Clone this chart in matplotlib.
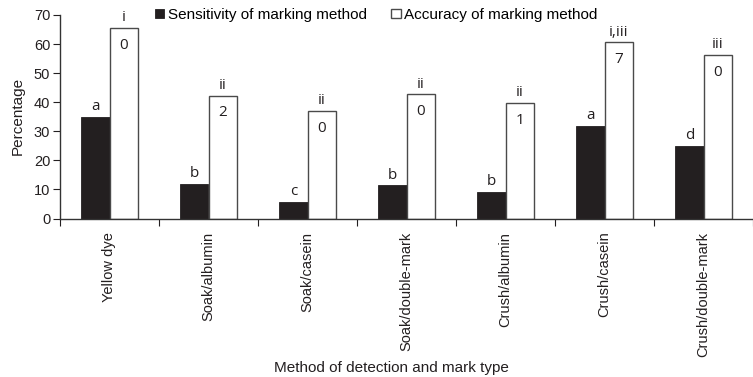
import numpy as np
import matplotlib
matplotlib.use("Agg")
import matplotlib.pyplot as plt

# Marking trial results per detection method / mark type
methods = ["Yellow dye", "Soak/albumin", "Soak/casein", "Soak/double-mark",
           "Crush/albumin", "Crush/casein", "Crush/double-mark"]
sensitivity = [35.0, 12.0, 5.8, 11.4, 9.2, 31.9, 25.0]
accuracy = [65.6, 42.3, 37.1, 42.7, 39.8, 60.6, 56.2]
sens_groups = ["a", "b", "c", "b", "b", "a", "d"]
acc_groups = ["i", "ii", "ii", "ii", "ii", "i,iii", "iii"]
acc_counts = ["0", "2", "0", "0", "1", "7", "0"]

ink = "#231f20"
plt.rcParams["font.family"] = ["Liberation Sans", "DejaVu Sans"]
plt.rcParams["font.size"] = 10.5

fig = plt.figure(figsize=(7.53, 3.77), dpi=100)
ax = fig.add_axes([60 / 753, 158.5 / 377, 693 / 753, 203.5 / 377])

centers = np.arange(len(methods)) + 0.5
w = 0.285
b1 = ax.bar(centers - w / 2, sensitivity, w, color=ink, edgecolor=ink, lw=0.6,
            label="Sensitivity of marking method")
b2 = ax.bar(centers + w / 2, accuracy, w, color="white", edgecolor="#4a4a4a", lw=1.0,
            label="Accuracy of marking method")

note_font = dict(family=["Open Sans", "DejaVu Sans"], fontsize=11, color=ink)
for x, v, g in zip(centers - w / 2, sensitivity, sens_groups):
    ax.annotate(g, (x, v), xytext=(0, 2), textcoords="offset points",
                ha="center", va="bottom", **note_font)
for x, v, g, n in zip(centers + w / 2, accuracy, acc_groups, acc_counts):
    ax.annotate(g, (x, v), xytext=(0, 2), textcoords="offset points",
                ha="center", va="bottom", **note_font)
    ax.annotate(n, (x, v), xytext=(0, -12.5), textcoords="offset points",
                ha="center", va="center", **note_font)

ax.set_xlim(0, 693 / 100.7)
ax.set_ylim(0, 70)
ax.set_yticks(range(0, 71, 10))

# boundary ticks between groups, labels at group centres
ax.set_xticks(np.arange(0, len(methods) + 1), minor=False)
ax.set_xticklabels([])
ax.set_xticks(centers, minor=True)
ax.set_xticklabels(methods, minor=True, rotation=90, va="top", ha="center")
ax.tick_params(axis="x", which="minor", length=0, pad=9.5)
ax.tick_params(axis="x", which="major", length=5, width=0.8, color="#555555")
ax.tick_params(axis="y", length=5, width=0.8, color="#555555", pad=2)
ax.tick_params(colors=ink, which="both", labelcolor=ink)

for s in ["top", "right"]:
    ax.spines[s].set_visible(False)
for s in ["left", "bottom"]:
    ax.spines[s].set_color("#333333")
    ax.spines[s].set_linewidth(1.0)

ax.set_ylabel("Percentage", color=ink, fontsize=11, va="center")
ax.yaxis.set_label_coords((18 - 60) / 693, (377 - 116 - 158.5) / 203.5)
ax.set_xlabel("Method of detection and mark type", color=ink, fontsize=11, va="center")
ax.xaxis.set_label_coords((391 - 60) / 693, -(368 - 218.5) / 203.5)

ax.legend(handles=[b1, b2], ncol=2, frameon=False, loc="center left",
          bbox_to_anchor=((155 - 60) / 693, 1.0), fontsize=11,
          handlelength=0.6, handleheight=0.55, handletextpad=0.25,
          columnspacing=1.6, borderaxespad=0, borderpad=0)

fig.savefig("out.png", dpi=100)
